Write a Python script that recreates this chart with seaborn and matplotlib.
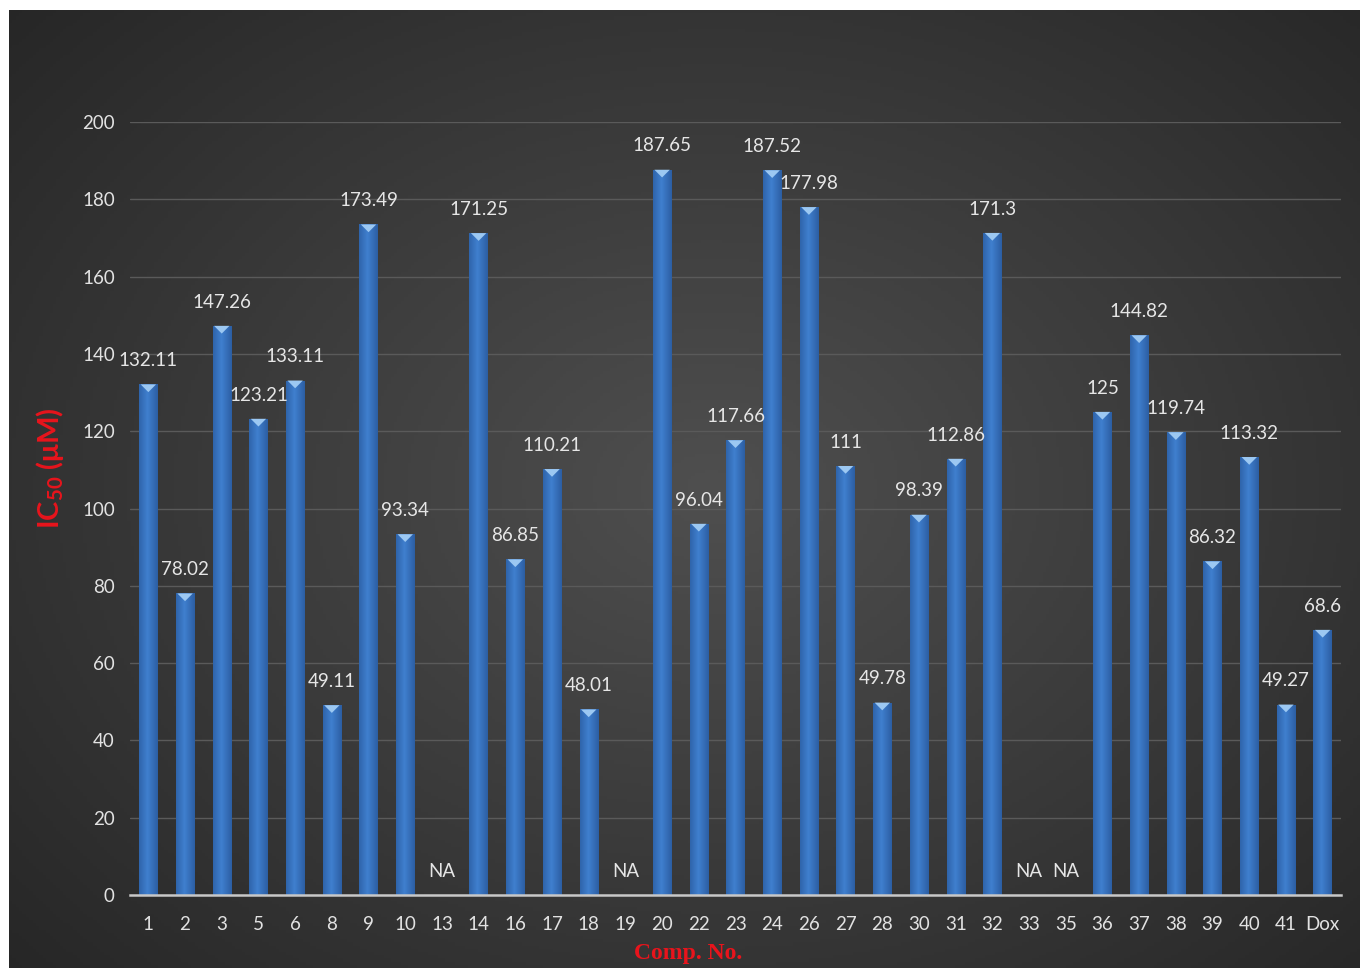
import numpy as np
import pandas as pd
import seaborn as sns
import matplotlib.pyplot as plt
from matplotlib.patches import Polygon

# data
compounds = ["1", "2", "3", "5", "6", "8", "9", "10", "13", "14", "16", "17", "18",
             "19", "20", "22", "23", "24", "26", "27", "28", "30", "31", "32", "33",
             "35", "36", "37", "38", "39", "40", "41", "Dox"]
ic50 = [132.11, 78.02, 147.26, 123.21, 133.11, 49.11, 173.49, 93.34, np.nan, 171.25,
        86.85, 110.21, 48.01, np.nan, 187.65, 96.04, 117.66, 187.52, 177.98, 111,
        49.78, 98.39, 112.86, 171.3, np.nan, np.nan, 125, 144.82, 119.74, 86.32,
        113.32, 49.27, 68.6]
yticks = list(range(0, 201, 20))

df = pd.DataFrame({"Comp": compounds, "IC50": ic50})

sns.set_theme(style="dark")
plt.rcParams["font.family"] = ["Lato", "DejaVu Sans"]

W, H = 1360, 968
fig = plt.figure(figsize=(W / 100, H / 100), dpi=100, facecolor="white")

# dark radial background
bg = fig.add_axes([9 / W, 0, 1 - 9 / W, 1 - 10 / H])
yy, xx = np.mgrid[0:1:300j, 0:1:400j]
r = np.sqrt(((xx - 0.52) / 0.75) ** 2 + ((yy - 0.5) / 0.8) ** 2)
shade = np.clip(0.31 - 0.17 * r, 0.14, 0.31)
bg.imshow(np.dstack([shade, shade, shade * 1.0]), aspect="auto", extent=[0, 1, 0, 1])
bg.set_axis_off()

ax = fig.add_axes([130 / W, 73 / H, 1211 / W, 773 / H])
ax.patch.set_alpha(0)
sns.barplot(data=df, x="Comp", y="IC50", color="#3b7bc8", width=0.5,
            saturation=1, linewidth=0, edgecolor="none", ax=ax, zorder=3)

ax.set_xlim(-0.5, len(compounds) - 0.5)
ax.set_ylim(0, 200)
ax.set_yticks(yticks)
ax.yaxis.grid(True, color="#5a5a5a", linewidth=1)
ax.xaxis.grid(False)
for s in ["top", "right", "left"]:
    ax.spines[s].set_visible(False)
ax.spines["bottom"].set_color("#c8c8c8")
ax.spines["bottom"].set_linewidth(1.8)
ax.spines["bottom"].set_zorder(5)
ax.tick_params(axis="both", length=0, colors="#e2e2e2", labelsize=13.5)
ax.tick_params(axis="y", pad=11)
ax.tick_params(axis="x", pad=15)

# gradient + bevel on each bar
grad = np.linspace(0, 1, 64)
prof = 1 - 0.6 * np.abs(grad - 0.45) * 2
bar_img = np.dstack([0.13 + 0.12 * prof, 0.30 + 0.20 * prof, 0.55 + 0.26 * prof])
for bar in ax.containers[0]:
    h = bar.get_height()
    if not np.isfinite(h) or h <= 0:
        continue
    x0 = bar.get_x()
    w = bar.get_width()
    im = ax.imshow(bar_img, extent=[x0, x0 + w, 0, h], aspect="auto", zorder=3.5)
    im.set_clip_path(bar)
    tri = Polygon([[x0 + w * 0.08, h], [x0 + w * 0.92, h], [x0 + w / 2, h - 2.0]],
                  closed=True, facecolor="#9cc8f2", edgecolor="none", zorder=4)
    ax.add_patch(tri)
ax.set_xlim(-0.5, len(compounds) - 0.5)
ax.set_ylim(0, 200)

# value labels
for i, v in enumerate(ic50):
    txt = "NA" if np.isnan(v) else f"{v:g}"
    ax.annotate(txt, (i, 0 if np.isnan(v) else v), xytext=(0, 11),
                textcoords="offset points", ha="center", va="bottom",
                color="#e6e6e6", fontsize=13.5, zorder=6)

ax.set_xlabel("")
ax.set_ylabel("")
fig.text(50 / W, 1 - 468 / H, r"IC$_{\mathregular{50}}$ (μM)", rotation=90,
         ha="center", va="center", color="#e8141c", fontsize=21, fontweight="bold")
fig.text(688 / W, 1 - 953 / H, "Comp. No.", ha="center", va="center",
         color="#e8141c", fontsize=17, fontweight="bold",
         family=["Liberation Serif", "DejaVu Serif"])

fig.savefig("out.png", dpi=100, facecolor="white")
